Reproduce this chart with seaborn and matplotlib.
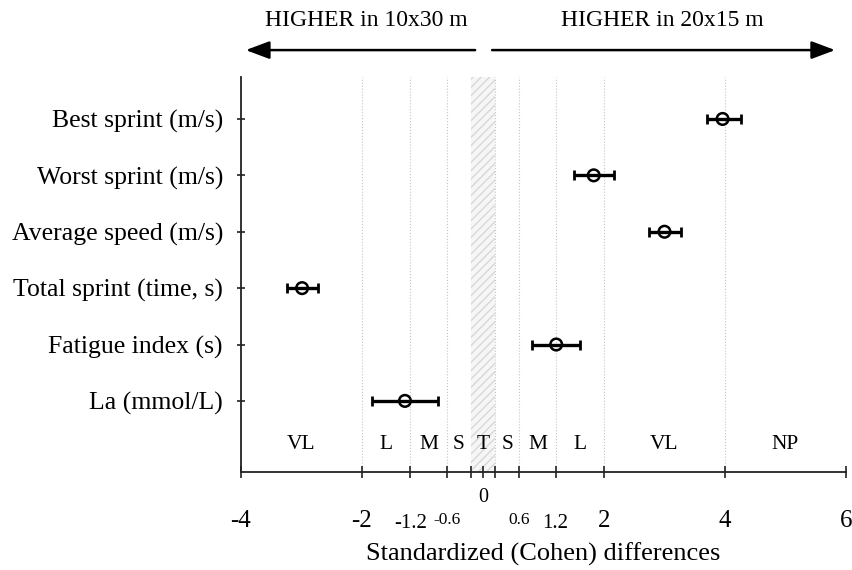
import numpy as np
import pandas as pd
import matplotlib.pyplot as plt
import seaborn as sns

# === DATA ===
variables = ["Best sprint (m/s)", "Worst sprint (m/s)", "Average speed (m/s)",
             "Total sprint (time, s)", "Fatigue index (s)", "La (mmol/L)"]
effect = [3.96, 1.83, 3.00, -2.99, 1.21, -1.29]
ci_low = [3.70, 1.50, 2.75, -3.24, 0.81, -1.83]
ci_high = [4.26, 2.17, 3.27, -2.73, 1.60, -0.74]

thresholds = [-2, -1.2, -0.6, -0.2, 0.2, 0.6, 1.2, 2, 4]
zone_labels = ["VL", "L", "M", "S", "T", "S", "M", "L", "VL", "NP"]
zone_centers = [-3, -1.6, -0.9, -0.4, 0, 0.4, 0.9, 1.6, 3, 5]

xticks = [-4, -2, -1.2, -0.6, -0.2, 0, 0.2, 0.6, 1.2, 2, 4, 6]
xtick_labels = ["-4", "-2", "-1.2", "-0.6", "", "0", "", "0.6", "1.2", "2", "4", "6"]

left_note = "HIGHER in 10x30 m"
right_note = "HIGHER in 20x15 m"
xlabel = "Standardized (Cohen) differences"

df = pd.DataFrame({"variable": variables, "d": effect, "lo": ci_low, "hi": ci_high})
df["pos"] = np.arange(len(df))

sns.set_style("white")
plt.rcParams["font.family"] = ["Liberation Serif", "DejaVu Serif"]
for key in ["text.color", "axes.labelcolor", "xtick.color", "ytick.color"]:
    plt.rcParams[key] = "black"

fig = plt.figure(figsize=(8.53, 5.70), dpi=100)
ax = fig.add_axes([0.2825, 0.172, 0.7093, 0.693])

# threshold lines + trivial band
for t in thresholds:
    ax.axvline(t, color="#c4c4c4", lw=0.8, ls=":", zorder=0)
ax.axvspan(-0.2, 0.2, facecolor="#f6f6f6", edgecolor="#d8d8d8", hatch="////", lw=0, zorder=0)

# confidence intervals
ax.errorbar(df["d"], df["pos"], xerr=[df["d"] - df["lo"], df["hi"] - df["d"]],
            fmt="none", ecolor="black", elinewidth=2.4, capsize=3.5, capthick=2, zorder=2)
sns.scatterplot(data=df, x="d", y="pos", ax=ax, s=70, marker="o", zorder=3)
pts = ax.collections[-1]
pts.set_facecolor("none")
pts.set_edgecolor("black")
pts.set_linewidth(1.8)

# magnitude zone letters
for c, lab in zip(zone_centers, zone_labels):
    ax.text(c, 5.78, lab, ha="center", va="center", fontsize=15.5)

ax.set_xlim(-4, 6)
ax.set_ylim(6.26, -0.745)
ax.set_yticks(df["pos"])
ax.set_yticklabels(df["variable"], fontsize=18.5)
ax.set_xticks(xticks)
ax.set_xticklabels(xtick_labels)
ax.set_xlabel(xlabel, fontsize=19, labelpad=7)
ax.set_ylabel("")

ax.tick_params(axis="x", bottom=True, direction="inout", length=9, width=1.2, color="#222222")
ax.tick_params(axis="y", left=True, direction="inout", length=6, width=1.2, color="#222222", pad=10)

# per-tick label size / drop
tick_style = {"-4": (18, 23), "-2": (18, 23), "2": (18, 23), "4": (18, 23), "6": (18, 23),
              "-1.2": (15, 25.5), "1.2": (15, 25.5), "-0.6": (12.5, 24.5), "0.6": (12.5, 24.5),
              "0": (14.5, 7), "": (10, 7)}
for tick, lab in zip(ax.xaxis.get_major_ticks(), xtick_labels):
    size, pad = tick_style[lab]
    tick.label1.set_fontsize(size)
    tick.set_pad(pad)

sns.despine(ax=ax, top=True, right=True)
for side in ["left", "bottom"]:
    ax.spines[side].set_color("#222222")
    ax.spines[side].set_linewidth(1.3)

# direction arrows on top
tr = ax.get_xaxis_transform()
arrow = dict(arrowstyle="-|>,head_length=0.4,head_width=0.15", color="black",
             lw=1.8, mutation_scale=36, shrinkA=0, shrinkB=0)
ax.annotate("", xy=(-3.92, 1.068), xytext=(-0.13, 1.068), xycoords=tr, textcoords=tr,
            arrowprops=arrow, annotation_clip=False)
ax.annotate("", xy=(5.82, 1.068), xytext=(0.15, 1.068), xycoords=tr, textcoords=tr,
            arrowprops=arrow, annotation_clip=False)
ax.text(-1.93, 1.144, left_note, transform=tr, ha="center", va="center", fontsize=17)
ax.text(2.96, 1.144, right_note, transform=tr, ha="center", va="center", fontsize=17)

fig.savefig("out.png", dpi=100)
